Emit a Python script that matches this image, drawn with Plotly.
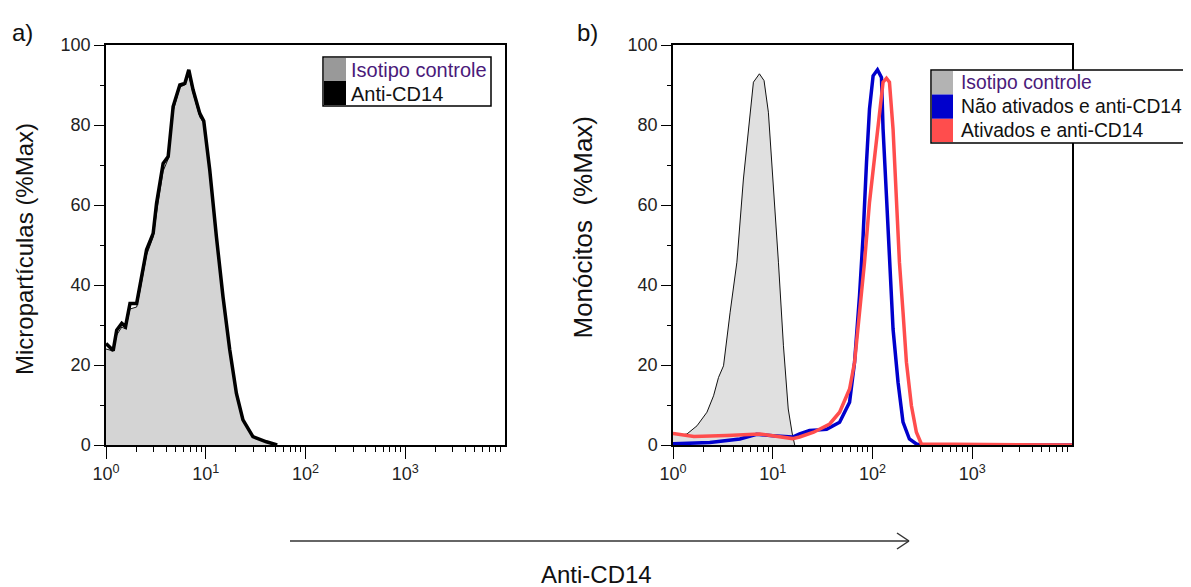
import plotly.graph_objects as go

# The page places the figure 8 px from the window's top-left corner,
# so the figure is 8 px smaller and every layout pixel is shifted by 8.
OFF = 8
W, H = 1191 - OFF, 587 - OFF

# ---------------- data (fluorescence intensity, %Max) ----------------
# Panel a) micropartículas
mp_x = [1.0, 1.18, 1.28, 1.44, 1.57, 1.74, 2.03, 2.19, 2.55, 2.97, 3.21, 3.74, 4.2, 4.71,
        5.5, 6.17, 6.76, 7.46, 8.71, 9.55, 10.96, 12.8, 14.9, 17.4, 20.3, 23.6, 29.7, 40.5, 49.0, 52.0]
mp_isotipo = [24.0, 23.5, 27.5, 29.5, 29.0, 34.0, 34.5, 38.5, 47.5, 52.0, 58.0, 68.5, 71.5, 83.5,
              89.5, 90.0, 92.5, 88.0, 82.0, 80.5, 68.0, 51.5, 36.5, 23.5, 12.5, 6.0, 2.0, 0.7, 0.2, 0.0]
mp_anticd14 = [25.4, 23.6, 28.7, 30.4, 29.6, 35.4, 35.4, 39.6, 48.8, 52.9, 60.4, 70.4, 72.1, 84.6,
               90.0, 90.4, 93.8, 88.8, 82.9, 81.0, 68.8, 52.0, 37.0, 23.8, 12.9, 6.3, 2.1, 0.8, 0.2, 0.0]

# Panel b) monócitos
mo_iso_x = [1.0, 1.2, 1.38, 1.74, 2.19, 2.55, 2.86, 3.21, 3.74, 4.37, 5.08, 5.7, 6.4, 7.35,
            8.18, 9.04, 10.1, 11.4, 12.8, 14.3, 15.7, 16.6]
mo_iso_y = [3.0, 2.5, 2.75, 4.8, 8.2, 12.3, 16.9, 19.8, 33.2, 45.7, 66.5, 79.0, 90.7, 92.8,
            91.1, 83.2, 66.5, 45.7, 24.8, 9.0, 2.75, 0.0]

mo_nao_x = [1.0, 2.34, 4.68, 6.9, 10.0, 15.8, 18.6, 23.4, 34.7, 46.8, 58.9, 66.1, 74.1, 80.5,
            87.1, 93.3, 101.4, 112.2, 123.0, 127.6, 138.0, 147.9, 160.7, 180.3, 202.3, 234.4,
            275.4, 300.0, 10000.0]
mo_nao_y = [0.3, 0.6, 1.5, 2.7, 2.3, 2.0, 2.75, 3.6, 3.9, 5.7, 10.7, 20.7, 37.3, 52.3,
            70.7, 84.0, 92.3, 93.8, 91.9, 79.0, 62.3, 45.7, 29.0, 15.7, 5.7, 1.5,
            0.25, 0.0, 0.0]

mo_at_x = [1.0, 1.62, 3.47, 7.41, 15.8, 18.6, 25.7, 37.2, 46.8, 58.9, 66.1, 74.1, 83.2, 93.3,
           104.7, 117.5, 127.6, 138.0, 147.9, 160.7, 173.8, 186.2, 202.3, 218.8, 245.5, 275.4,
           309.0, 10000.0]
mo_at_y = [2.9, 2.1, 2.4, 2.75, 1.6, 2.0, 3.2, 5.25, 8.2, 14.0, 20.7, 32.3, 45.7, 60.7,
           72.3, 83.2, 90.7, 91.7, 90.7, 79.0, 62.3, 45.7, 33.2, 20.7, 9.8, 3.2,
           0.25, 0.0]

x_tickvals = [1, 10, 100, 1000]
x_ticktext = ["10<sup>0</sup>", "10<sup>1</sup>", "10<sup>2</sup>", "10<sup>3</sup>"]
x_minor = [m * d for d in (1, 10, 100, 1000) for m in range(2, 10)]
y_tickvals = [0, 20, 40, 60, 80, 100]
y_minor = [10, 30, 50, 70, 90]

legend_a = ["Isotipo controle", "Anti-CD14"]
legend_b = ["Isotipo controle", "Não ativados e anti-CD14", "Ativados e anti-CD14"]

# ---------------- figure ----------------
def px(x):
    return (x - OFF) / W

def py(y):
    return 1 - (y - OFF) / H

FONT = "Liberation Sans, Arial, sans-serif"
BLUE = "#0000cc"
RED = "#ff4d4d"
PURPLE = "#4a1a7a"

fig = go.Figure()

# panel a
fig.add_trace(go.Scatter(x=mp_x, y=mp_isotipo, mode="lines", fill="tozeroy",
                         fillcolor="#d4d4d4", line=dict(color="#111111", width=1),
                         xaxis="x", yaxis="y", showlegend=False))
fig.add_trace(go.Scatter(x=mp_x, y=mp_anticd14, mode="lines",
                         line=dict(color="#000000", width=3.5),
                         xaxis="x", yaxis="y", showlegend=False))

# panel b
fig.add_trace(go.Scatter(x=mo_iso_x, y=mo_iso_y, mode="lines", fill="tozeroy",
                         fillcolor="#e0e0e0", line=dict(color="#111111", width=1),
                         xaxis="x2", yaxis="y2", showlegend=False))
fig.add_trace(go.Scatter(x=mo_nao_x, y=mo_nao_y, mode="lines",
                         line=dict(color=BLUE, width=3.5),
                         xaxis="x2", yaxis="y2", showlegend=False))
fig.add_trace(go.Scatter(x=mo_at_x, y=mo_at_y, mode="lines",
                         line=dict(color=RED, width=3.5),
                         xaxis="x2", yaxis="y2", showlegend=False))

xcommon = dict(type="log", range=[0, 4], tickvals=x_tickvals, ticktext=x_ticktext,
               ticks="outside", ticklen=12, tickwidth=1.3, tickcolor="#000",
               showline=True, linecolor="#000", linewidth=1.5, mirror=True,
               showgrid=False, zeroline=False, automargin=False,
               tickfont=dict(family=FONT, size=18, color="#222"),
               minor=dict(ticks="outside", ticklen=5, tickwidth=1.2, tickcolor="#000",
                          tickvals=x_minor, showgrid=False))
ycommon = dict(range=[0, 100], tickvals=y_tickvals,
               ticks="outside", ticklen=10, tickwidth=1.3, tickcolor="#000",
               showline=True, linecolor="#000", linewidth=1.5, mirror=True,
               showgrid=False, zeroline=False, automargin=False,
               tickfont=dict(family=FONT, size=18, color="#222"),
               minor=dict(ticks="outside", ticklen=4, tickwidth=1.2, tickcolor="#000",
                          tickvals=y_minor, showgrid=False))

ydom = [py(445), py(45)]
fig.update_layout(
    template="none",
    width=W, height=H, margin=dict(l=0, r=0, t=0, b=0, pad=0, autoexpand=False),
    paper_bgcolor="white", plot_bgcolor="white",
    xaxis=dict(domain=[px(106), px(505)], anchor="y", **xcommon),
    yaxis=dict(domain=ydom, anchor="x", **ycommon),
    xaxis2=dict(domain=[px(673), px(1072)], anchor="y2", **xcommon),
    yaxis2=dict(domain=ydom, anchor="x2", **ycommon),
    showlegend=False,
)

shapes = []
annotations = []

def txt(x, y, s, size, color="#111", xanchor="center", angle=0):
    annotations.append(dict(x=px(x), y=py(y), xref="paper", yref="paper", text=s,
                            showarrow=False, xanchor=xanchor, yanchor="middle",
                            textangle=angle,
                            font=dict(family=FONT, size=size, color=color)))

def rect(x0, y0, x1, y1, fill, line="#000", lw=0):
    shapes.append(dict(type="rect", xref="paper", yref="paper",
                       x0=px(x0), x1=px(x1), y0=py(y1), y1=py(y0),
                       fillcolor=fill, line=dict(color=line, width=lw)))

# legend a
rect(323, 57, 491, 106, "white", "#000", 1.5)
rect(324, 58, 346, 81, "#999999")
rect(324, 81, 346, 105, "#000000")
txt(349, 69.5, legend_a[0], 20, PURPLE, "left")
txt(349, 94, legend_a[1], 20, "#111", "left")

# legend b
rect(931, 70, 1192, 143, "white", "#000", 1.5)
rect(932, 71, 953, 94.5, "#b3b3b3")
rect(932, 94.5, 953, 118.8, BLUE)
rect(932, 118.8, 953, 142, RED)
txt(959, 82.5, legend_b[0], 19.3, PURPLE, "left")
txt(959, 106.5, legend_b[1], 19.3, "#111", "left")
txt(959, 131, legend_b[2], 19.3, "#111", "left")

# axis titles / panel labels
txt(24, 249, "Micropartículas (%Max)", 24, "#111", angle=-90)
txt(583, 227.5, "Monócitos\u00a0\u00a0(%Max)", 26, "#111", angle=-90)
txt(22, 32, "a)", 24, "#111")
txt(587, 32, "b)", 24, "#111")

# bottom arrow + label
for (x0, y0, x1, y1) in [(290, 541, 909, 541), (909, 541, 897, 533), (909, 541, 897, 549)]:
    shapes.append(dict(type="line", xref="paper", yref="paper",
                       x0=px(x0), y0=py(y0), x1=px(x1), y1=py(y1),
                       line=dict(color="#333333", width=1.5)))
txt(596, 574, "Anti-CD14", 24, "#111")

fig.update_layout(shapes=shapes, annotations=annotations)
fig.write_html("out.html")
